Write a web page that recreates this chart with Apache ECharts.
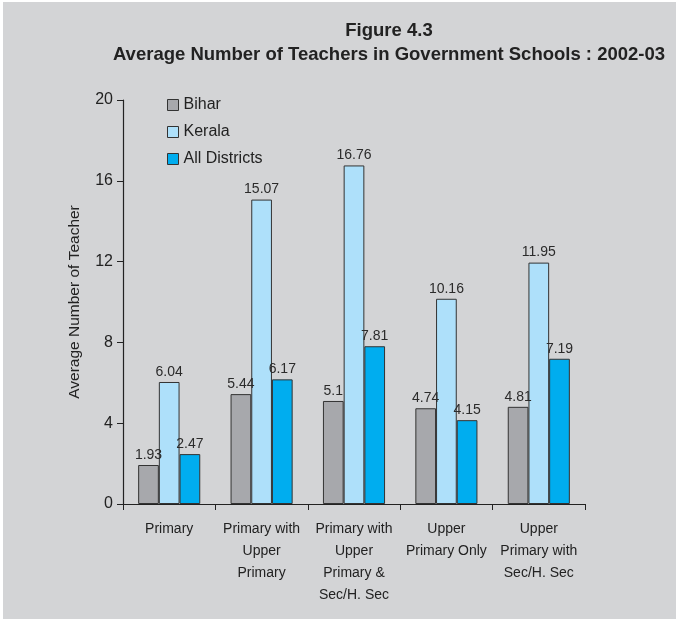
<!DOCTYPE html>
<html>
<head>
<meta charset="utf-8">
<script src="https://cdn.jsdelivr.net/npm/echarts@6/dist/echarts.min.js"></script>
<style>
  html, body { margin: 0; padding: 0; background: #fff; }
  #chart { position: absolute; left: 3px; top: 2px; width: 673px; height: 617px; }
</style>
</head>
<body>
<div id="chart"></div>
<script>
// categories and values
var categories = [
  'Primary',
  'Primary with\nUpper\nPrimary',
  'Primary with\nUpper\nPrimary &\nSec/H. Sec',
  'Upper\nPrimary Only',
  'Upper\nPrimary with\nSec/H. Sec'
]
var bihar = [1.93, 5.44, 5.1, 4.74, 4.81]
var kerala = [6.04, 15.07, 16.76, 10.16, 11.95]
var allDistricts = [2.47, 6.17, 7.81, 4.15, 7.19]
var seriesNames = ['Bihar', 'Kerala', 'All Districts']
var colors = ['#a7a8ac', '#aee0fa', '#00adef']

var chart = echarts.init(document.getElementById('chart'))

function makeSeries(name, data, color) {
  return {
    name: name,
    type: 'bar',
    data: data,
    barWidth: 20.7,
    barGap: '0%',
    itemStyle: {
      color: color,
      borderColor: '#333',
      borderWidth: 1
    },
    label: {
      show: true,
      position: 'top',
      distance: 3,
      color: '#2b2b2b',
      fontSize: 14,
      fontFamily: 'Liberation Sans',
      formatter: function (p) { return String(p.value) }
    }
  }
}

chart.setOption({
  backgroundColor: '#d3d4d6',
  title: {
    text: 'Figure 4.3\nAverage Number of Teachers in Government Schools : 2002-03',
    left: 381,
    top: 12,
    textAlign: 'center',
    textStyle: {
      fontFamily: 'Liberation Sans',
      fontWeight: 'bold',
      fontSize: 18.5,
      lineHeight: 24,
      color: '#222'
    }
  },
  legend: {
    orient: 'vertical',
    left: 159,
    top: 89,
    itemGap: 9,
    itemWidth: 11,
    itemHeight: 11,
    icon: 'rect',
    data: seriesNames,
    itemStyle: { borderColor: '#333', borderWidth: 1 },
    textStyle: { fontFamily: 'Liberation Sans', fontSize: 16, lineHeight: 18, color: '#222' }
  },
  grid: {
    left: 120,
    right: 91,
    top: 98,
    bottom: 115,
    containLabel: false
  },
  xAxis: {
    type: 'category',
    data: categories,
    axisLine: { lineStyle: { color: '#222', width: 1.2 } },
    axisTick: { show: true, alignWithLabel: false, length: 6, lineStyle: { color: '#222' } },
    axisLabel: {
      interval: 0,
      margin: 14,
      fontFamily: 'Liberation Sans',
      fontSize: 14,
      lineHeight: 22,
      color: '#222'
    }
  },
  yAxis: {
    type: 'value',
    min: 0,
    max: 20,
    interval: 4,
    name: 'Average Number of Teacher',
    nameLocation: 'middle',
    nameGap: 40,
    nameTextStyle: { fontFamily: 'Liberation Sans', fontSize: 15.5, color: '#222' },
    axisLine: { show: true, lineStyle: { color: '#222', width: 1.2 } },
    axisTick: { show: true, length: 6, lineStyle: { color: '#222' } },
    splitLine: { show: false },
    axisLabel: {
      margin: 10,
      fontFamily: 'Liberation Sans',
      fontSize: 16,
      color: '#222'
    }
  },
  series: [
    makeSeries(seriesNames[0], bihar, colors[0]),
    makeSeries(seriesNames[1], kerala, colors[1]),
    makeSeries(seriesNames[2], allDistricts, colors[2])
  ]
})
</script>
</body>
</html>
